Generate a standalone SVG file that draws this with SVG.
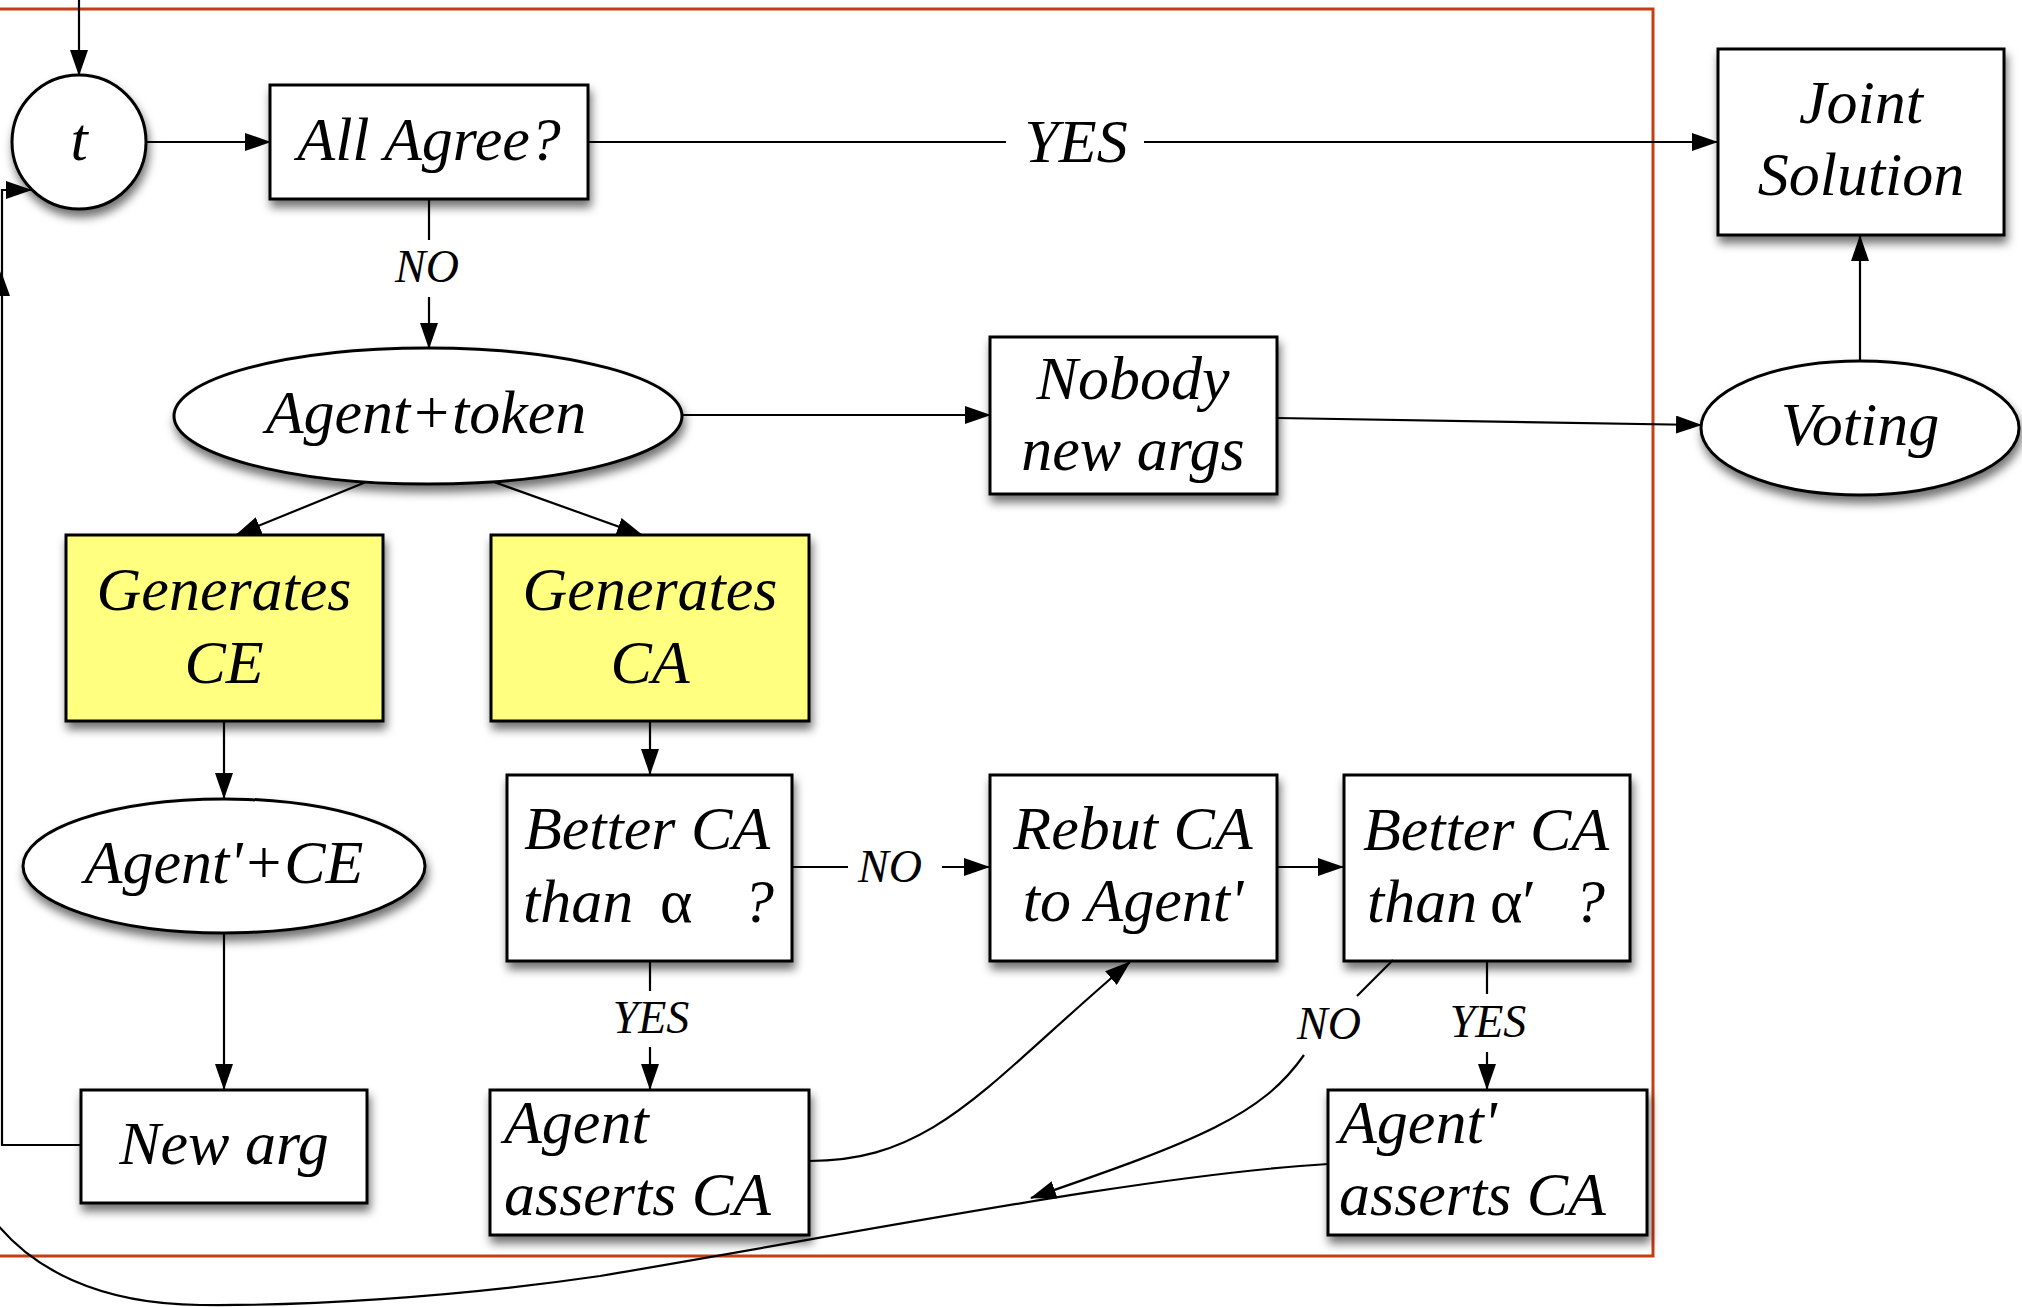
<svg xmlns="http://www.w3.org/2000/svg" width="2022" height="1307" viewBox="0 0 2022 1307">
  <defs>
    <filter id="shadow" x="-20%" y="-20%" width="150%" height="170%">
      <feDropShadow dx="2" dy="7" stdDeviation="5" flood-color="#000" flood-opacity="0.55"/>
    </filter>
    <marker id="arrow" markerUnits="userSpaceOnUse" markerWidth="26" markerHeight="18" refX="25" refY="9" orient="auto">
      <path d="M0,0 L26,9 L0,18 z" fill="#000"/>
    </marker>
  </defs>
  <style>
    .shape { fill: #fff; stroke: #000; stroke-width: 3; filter: url(#shadow); }
    .yellow { fill: #ffff80; }
    .txt { font-family: "Liberation Serif", "Times New Roman", serif; font-style: italic; font-size: 62px; fill: #000; }
    .c { text-anchor: middle; }
    .small { font-size: 46px; }
    .sym { font-style: normal; }
    .edge { fill: none; stroke: #000; stroke-width: 2.2; }
    .arr { marker-end: url(#arrow); }
    .frame { fill: none; stroke: #c43e12; stroke-width: 3; }
  </style>

  <!-- boundary of the argumentation loop -->
  <rect class="frame" x="-20" y="9" width="1673" height="1247"/>

  <g id="node-t">
    <circle class="shape" cx="79" cy="142" r="67"/>
    <text class="txt c" x="79" y="160">t</text>
  </g>

  <g id="node-all-agree">
    <rect class="shape" x="270" y="85" width="318" height="114"/>
    <text class="txt c" x="429" y="160">All Agree?</text>
  </g>

  <g id="node-joint-solution">
    <rect class="shape" x="1718" y="49" width="286" height="186"/>
    <text class="txt c" x="1861" y="123">Joint</text>
    <text class="txt c" x="1861" y="195">Solution</text>
  </g>

  <g id="node-agent-token">
    <ellipse class="shape" cx="428" cy="416" rx="254" ry="68"/>
    <text class="txt c" x="426" y="433">Agent+token</text>
  </g>

  <g id="node-nobody">
    <rect class="shape" x="990" y="337" width="287" height="157"/>
    <text class="txt c" x="1133" y="399">Nobody</text>
    <text class="txt c" x="1133" y="470">new args</text>
  </g>

  <g id="node-voting">
    <ellipse class="shape" cx="1860" cy="428" rx="159" ry="67"/>
    <text class="txt c" x="1860" y="445">Voting</text>
  </g>

  <g id="node-generates-ce">
    <rect class="shape yellow" x="66" y="535" width="317" height="186"/>
    <text class="txt c" x="224" y="610">Generates</text>
    <text class="txt c" x="224" y="683">CE</text>
  </g>

  <g id="node-generates-ca">
    <rect class="shape yellow" x="491" y="535" width="318" height="186"/>
    <text class="txt c" x="650" y="610">Generates</text>
    <text class="txt c" x="650" y="683">CA</text>
  </g>

  <g id="node-agent-ce">
    <ellipse class="shape" cx="224" cy="866" rx="201" ry="67"/>
    <text class="txt c" x="224" y="883">Agent'+CE</text>
  </g>

  <g id="node-better-ca">
    <rect class="shape" x="507" y="775" width="285" height="186"/>
    <text class="txt c" x="647" y="849">Better CA</text>
    <text class="txt" x="523" y="922">than</text>
    <text class="txt sym" x="660" y="922">α</text>
    <text class="txt" x="743" y="922">?</text>
  </g>

  <g id="node-rebut">
    <rect class="shape" x="990" y="775" width="287" height="186"/>
    <text class="txt c" x="1133" y="849">Rebut CA</text>
    <text class="txt c" x="1133" y="921">to Agent'</text>
  </g>

  <g id="node-better-ca-prime">
    <rect class="shape" x="1344" y="775" width="286" height="186"/>
    <text class="txt c" x="1486" y="850">Better CA</text>
    <text class="txt" x="1367" y="922">than</text>
    <text class="txt sym" x="1490" y="922">α′</text>
    <text class="txt" x="1574" y="922">?</text>
  </g>

  <g id="node-new-arg">
    <rect class="shape" x="81" y="1090" width="286" height="113"/>
    <text class="txt c" x="224" y="1164">New arg</text>
  </g>

  <g id="node-agent-asserts">
    <rect class="shape" x="490" y="1090" width="319" height="145"/>
    <text class="txt" x="504" y="1143">Agent</text>
    <text class="txt" x="504" y="1215">asserts CA</text>
  </g>

  <g id="node-agent-prime-asserts">
    <rect class="shape" x="1328" y="1090" width="319" height="145"/>
    <text class="txt" x="1339" y="1143">Agent'</text>
    <text class="txt" x="1339" y="1215">asserts CA</text>
  </g>

  <g id="connectors">
    <!-- entry into the loop -->
    <line class="edge arr" x1="79" y1="0" x2="79" y2="75"/>
    <line class="edge arr" x1="146" y1="142" x2="270" y2="142"/>

    <!-- All Agree? YES -> Joint Solution -->
    <line class="edge" x1="588" y1="142" x2="1006" y2="142"/>
    <text class="txt c" x="1076" y="162">YES</text>
    <line class="edge arr" x1="1144" y1="142" x2="1717" y2="142"/>

    <!-- All Agree? NO -> Agent+token -->
    <line class="edge" x1="429" y1="199" x2="429" y2="240"/>
    <text class="txt small c" x="427" y="282">NO</text>
    <line class="edge arr" x1="429" y1="297" x2="429" y2="348"/>

    <line class="edge arr" x1="683" y1="415" x2="990" y2="415"/>
    <line class="edge arr" x1="1277" y1="418" x2="1701" y2="425"/>
    <line class="edge arr" x1="1860" y1="361" x2="1860" y2="236"/>

    <line class="edge arr" x1="366" y1="482" x2="236" y2="535"/>
    <line class="edge arr" x1="494" y1="482" x2="642" y2="535"/>

    <line class="edge arr" x1="224" y1="721" x2="224" y2="798"/>
    <line class="edge arr" x1="224" y1="933" x2="224" y2="1089"/>
    <line class="edge arr" x1="650" y1="721" x2="650" y2="774"/>

    <!-- New arg loops back to t -->
    <polyline class="edge arr" points="81,1145 2,1145 2,190 31,190"/>
    <polygon points="1,271 10,296 -8,296" fill="#000"/>

    <!-- Better CA than alpha ? -->
    <line class="edge" x1="650" y1="961" x2="650" y2="991"/>
    <text class="txt small c" x="651" y="1033">YES</text>
    <line class="edge arr" x1="650" y1="1047" x2="650" y2="1089"/>

    <line class="edge" x1="792" y1="867" x2="848" y2="867"/>
    <text class="txt small c" x="890" y="882">NO</text>
    <line class="edge arr" x1="942" y1="867" x2="989" y2="867"/>

    <line class="edge arr" x1="1277" y1="867" x2="1343" y2="867"/>

    <!-- Better CA than alpha' ? -->
    <line class="edge" x1="1487" y1="961" x2="1487" y2="994"/>
    <text class="txt small c" x="1488" y="1037">YES</text>
    <line class="edge arr" x1="1487" y1="1052" x2="1487" y2="1089"/>

    <line class="edge" x1="1393" y1="960" x2="1357" y2="996"/>
    <text class="txt small c" x="1329" y="1039">NO</text>
    <path class="edge arr" d="M1304,1055 C1262,1115 1200,1140 1031,1198"/>

    <!-- Agent asserts CA -> Rebut CA -->
    <path class="edge arr" d="M809,1161 C935,1161 985,1085 1130,962"/>

    <!-- Agent' asserts CA back out of the loop -->
    <path class="edge" d="M1328,1164 C1150,1175 900,1225 600,1276 C450,1298 300,1306 200,1305 C100,1304 30,1270 -10,1215"/>
  </g>
</svg>
